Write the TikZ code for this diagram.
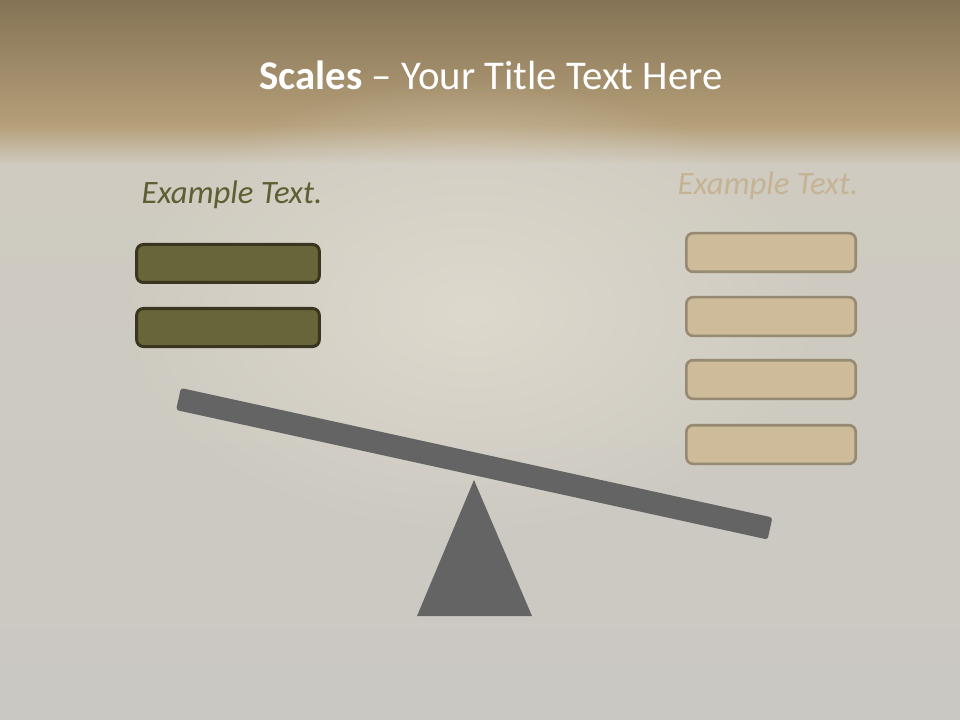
\documentclass[tikz,border=0pt]{standalone}
\usepackage{fontspec}
\setmainfont{Carlito}
\usetikzlibrary{fadings}
\tikzfading[name=softblob, inner color=transparent!0, outer color=transparent!100]
\definecolor{bandtop}{HTML}{847355}
\definecolor{bandbot}{HTML}{B59F79}
\definecolor{bgtop}{HTML}{CFCBC0}
\definecolor{bgbot}{HTML}{CAC8C3}
\definecolor{bglight}{HTML}{DED9CD}
\definecolor{beamgray}{HTML}{646464}
\definecolor{olivefill}{HTML}{686538}
\definecolor{olivedraw}{HTML}{3A3520}
\definecolor{olivetext}{HTML}{5F5E33}
\definecolor{tanfill}{HTML}{CDBB9A}
\definecolor{tandraw}{HTML}{978A72}
\definecolor{tantext}{HTML}{C6B394}
\tikzset{
  leftbox/.style={draw=olivedraw, fill=olivefill, line width=2.25pt, rounded corners=5pt,
    minimum width=137pt, minimum height=28.5pt, inner sep=0pt},
  rightbox/.style={draw=tandraw, fill=tanfill, line width=2pt, rounded corners=5pt,
    minimum width=127pt, minimum height=29pt, inner sep=0pt},
  sidetext/.style={font=\fontsize{24.5}{28}\selectfont\itshape, inner sep=0pt},
}
\begin{document}
\begin{tikzpicture}[x=0.75pt, y=-0.75pt]
\useasboundingbox (0,0) rectangle (960,720);
% background
\fill[top color=bandtop, bottom color=bandbot] (0,0) rectangle (960,126);
\fill[top color=bandbot, bottom color=bgtop] (0,125.5) rectangle (960,165);
\fill[top color=bgtop, bottom color=bgbot] (0,164.5) rectangle (960,720);
\fill[bglight, path fading=softblob, fit fading=true] (470,310) ellipse (360 and 230);
% title
\node[text=white, font=\fontsize{30.6}{36}\selectfont, inner sep=0pt] (title) at (491,75)
  {\textbf{Scales} -- Your Title Text Here};
% side texts
\node[sidetext, text=olivetext] (lt) at (232,195) {Example Text.};
\node[sidetext, text=tantext] (rt) at (768,186) {Example Text.};
% left boxes
\node[leftbox] (l1) at (228,263.5) {};
\node[leftbox] (l2) at (228,327.5) {};
% right boxes
\node[rightbox] (r1) at (771,252.5) {};
\node[rightbox] (r2) at (771,316.5) {};
\node[rightbox] (r3) at (771,379.5) {};
\node[rightbox] (r4) at (771,444.5) {};
% fulcrum
\fill[beamgray] (474,480) -- (532,616) -- (417,616) -- cycle;
% beam
\fill[beamgray, rounded corners=2pt] (180.9,388) -- (772.4,517.5) -- (767.6,539.5) -- (176.1,410) -- cycle;
\end{tikzpicture}
\end{document}
